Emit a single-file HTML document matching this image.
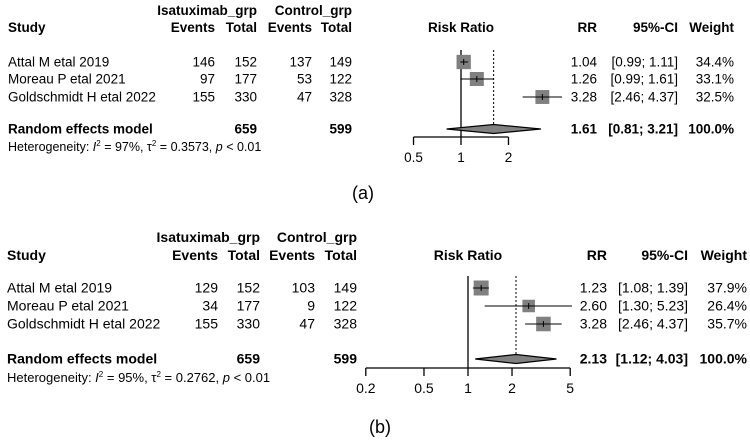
<!DOCTYPE html>
<html><head><meta charset="utf-8"><style>
body{margin:0;background:#fff;}
svg{display:block;font-family:"Liberation Sans",Arial,sans-serif;}
text{fill:#000;font-family:"Liberation Sans",Arial,sans-serif;}
</style></head><body>
<svg id="chart" width="750" height="443" viewBox="0 0 750 443"></svg>
<script>
const studies = ["Attal M etal 2019","Moreau P etal 2021","Goldschmidt H etal 2022"];
const aIsaEvents = [146,97,155];
const aIsaTotal = [152,177,330];
const aCtlEvents = [137,53,47];
const aCtlTotal = [149,122,328];
const aRR = [1.04,1.26,3.28];
const aLo = [0.99,0.99,2.46];
const aHi = [1.11,1.61,4.37];
const aWeight = [34.4,33.1,32.5];
const aPooled = [1.61,0.81,3.21];
const aTicks = [0.5,1,2];
const bIsaEvents = [129,34,155];
const bIsaTotal = [152,177,330];
const bCtlEvents = [103,9,47];
const bCtlTotal = [149,122,328];
const bRR = [1.23,2.60,3.28];
const bLo = [1.08,1.30,2.46];
const bHi = [1.39,5.23,4.37];
const bWeight = [37.9,26.4,35.7];
const bPooled = [2.13,1.12,4.03];
const bTicks = [0.2,0.5,1,2,5];

const NS="http://www.w3.org/2000/svg";
const svg=document.getElementById('chart');
function el(tag,attrs,parent,txt){const e=document.createElementNS(NS,tag);for(const k in attrs)e.setAttribute(k,attrs[k]);if(txt!==undefined)e.textContent=txt;(parent||svg).appendChild(e);return e;}
function T(x,y,s,anchor,bold,size,name,parent){const t=el('text',{x:x,y:y,'text-anchor':anchor,'font-size':size},parent,s);if(bold)t.setAttribute('font-weight','bold');return t;}

function panel(p){
  const g=el('g',{});
  
  
  const fs=p.fs, x1=p.x1;
  const sx=v=>x1+Math.log(v)*p.k;
  T(p.cT,p.h1,'Isatuximab_grp','end',1,fs,'isatuximab-header',g);
  T(p.cCT,p.h1,'Control_grp','end',1,fs,'control-header',g);
  T(p.xs,p.h2,'Study','start',1,fs,'study-header',g);
  T(p.cE,p.h2,'Events','end',1,fs,'isa-events-header',g);
  T(p.cT,p.h2,'Total','end',1,fs,'isa-total-header',g);
  T(p.cCE,p.h2,'Events','end',1,fs,'ctl-events-header',g);
  T(p.cCT,p.h2,'Total','end',1,fs,'ctl-total-header',g);
  T(x1,p.h2,'Risk Ratio','middle',1,fs,'risk-ratio-header',g);
  T(p.cRR,p.h2,'RR','end',1,fs,'rr-header',g);
  T(p.cCI,p.h2,'95%-CI','end',1,fs,'ci-header',g);
  T(p.cW,p.h2,'Weight','end',1,fs,'weight-header',g);
  const top=p.rows[0]-12;
  let l=el('line',{x1:x1,x2:x1,y1:top,y2:p.ax,stroke:'#000','stroke-width':1.3},g);
  
  l=el('line',{x1:sx(p.pooled[0]),x2:sx(p.pooled[0]),y1:top,y2:p.pr,stroke:'#000','stroke-width':1,'stroke-dasharray':'2,2'},g);
  
  for(let i=0;i<studies.length;i++){
    const y=p.rows[i], by=y+4.5;
    T(p.xs,by,studies[i],'start',0,fs,'study-label',g);
    T(p.cE,by,p.ie[i],'end',0,fs,'isa-events',g);
    T(p.cT,by,p.it[i],'end',0,fs,'isa-total',g);
    T(p.cCE,by,p.ce[i],'end',0,fs,'ctl-events',g);
    T(p.cCT,by,p.ct[i],'end',0,fs,'ctl-total',g);
    T(p.cRR,by,p.rr[i].toFixed(2),'end',0,fs,'rr-value',g);
    T(p.cCI,by,'['+p.lo[i].toFixed(2)+'; '+p.hi[i].toFixed(2)+']','end',0,fs,'ci-value',g);
    T(p.cW,by,p.w[i].toFixed(1)+'%','end',0,fs,'weight-value',g);
    const half=Math.sqrt(p.w[i]/33)*p.sq;
    const ci=el('line',{x1:Math.max(sx(p.lo[i]),p.xmin),x2:Math.min(sx(p.hi[i]),p.xmax),y1:y,y2:y,stroke:'#000','stroke-width':1},g);
    
    const r=el('rect',{x:sx(p.rr[i])-half,y:y-half,width:2*half,height:2*half,fill:'#808080'},g);
    
    const c=el('line',{x1:Math.max(sx(p.lo[i]),sx(p.rr[i])-half),x2:Math.min(sx(p.hi[i]),sx(p.rr[i])+half),y1:y,y2:y,stroke:'#000','stroke-width':1},g);
    
    const m=el('line',{x1:sx(p.rr[i]),x2:sx(p.rr[i]),y1:y-3,y2:y+3,stroke:'#000','stroke-width':1},g);
    
  }
  const py=p.pr, pb=py+4.5;
  T(p.xs,pb,'Random effects model','start',1,fs,'random-effects-label',g);
  T(p.cT,pb,'659','end',1,fs,'isa-total-sum',g);
  T(p.cCT,pb,'599','end',1,fs,'ctl-total-sum',g);
  T(p.cRR,pb,p.pooled[0].toFixed(2),'end',1,fs,'pooled-rr',g);
  T(p.cCI,pb,'['+p.pooled[1].toFixed(2)+'; '+p.pooled[2].toFixed(2)+']','end',1,fs,'pooled-ci',g);
  T(p.cW,pb,'100.0%','end',1,fs,'pooled-weight',g);
  const d=el('polygon',{points:[sx(p.pooled[1])+','+py,sx(p.pooled[0])+','+(py-4.5),sx(p.pooled[2])+','+py,sx(p.pooled[0])+','+(py+4.5)].join(' '),fill:'#808080',stroke:'#000','stroke-width':1.2},g);
  
  const het=el('text',{x:p.xs,y:p.het,'font-size':fs-1},g);
  
  het.innerHTML='Heterogeneity: <tspan font-style="italic">I</tspan><tspan dy="-5" font-size="8">2</tspan><tspan dy="5"> = '+p.i2+', τ</tspan><tspan dy="-5" font-size="8">2</tspan><tspan dy="5"> = '+p.tau+', </tspan><tspan font-style="italic">p</tspan> &lt; 0.01';
  const ax=el('line',{x1:sx(p.ticks[0]),x2:sx(p.ticks[p.ticks.length-1]),y1:p.ax,y2:p.ax,stroke:'#000','stroke-width':1.3},g);
  
  p.ticks.forEach(t=>{
    const tk=el('line',{x1:sx(t),x2:sx(t),y1:p.ax,y2:p.ax+8,stroke:'#000','stroke-width':1.3},g);
    
    T(sx(t),p.ax+25,String(t),'middle',0,fs,'x-tick-label',g);
  });
  T(p.capX,p.capY,p.cap,'middle',0,18,'panel-caption',g);
}
panel({id:'a',fs:13.5,xs:8,h1:15,h2:32,cE:215,cT:257,cCE:312,cCT:352,cRR:597,cCI:678,cW:734,
  x1:461,k:68.5,xmin:380,xmax:563,rows:[62,79,97],pr:129,het:151,ax:137,sq:7,
  ie:aIsaEvents,it:aIsaTotal,ce:aCtlEvents,ct:aCtlTotal,rr:aRR,lo:aLo,hi:aHi,w:aWeight,pooled:aPooled,ticks:aTicks,
  i2:'97%',tau:'0.3573',cap:'(a)',capX:363,capY:199});
panel({id:'b',fs:14,xs:7,h1:242,h2:260,cE:218,cT:260,cCE:315,cCT:357,cRR:607,cCI:688,cW:747,
  x1:468,k:63.5,xmin:360,xmax:572,rows:[288,306,324],pr:359,het:382,ax:368,sq:7,
  ie:bIsaEvents,it:bIsaTotal,ce:bCtlEvents,ct:bCtlTotal,rr:bRR,lo:bLo,hi:bHi,w:bWeight,pooled:bPooled,ticks:bTicks,
  i2:'95%',tau:'0.2762',cap:'(b)',capX:380,capY:433});
</script>
</body></html>
